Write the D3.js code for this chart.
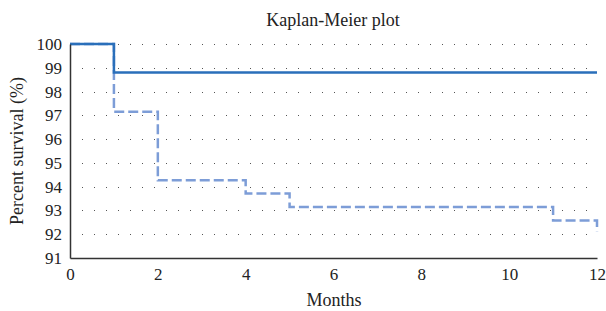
<!DOCTYPE html>
<html>
<head>
<meta charset="utf-8">
<script src="https://cdn.jsdelivr.net/npm/d3@7"></script>
<style>
  body { margin: 0; background: #fff; }
  text { font-family: "Liberation Serif", "DejaVu Serif", serif; fill: #222; }
</style>
</head>
<body>
<div id="chart"></div>
<script>
// Kaplan-Meier curves, values
const monthsA = [0, 1, 12];
const survivalA = [100, 98.8, 98.8];

const monthsB = [0, 1, 2, 4, 5, 11, 12];
const survivalB = [100, 97.15, 94.27, 93.71, 93.14, 92.58, 92.13];

const xTicks = [0, 2, 4, 6, 8, 10, 12];
const yTicks = [91, 92, 93, 94, 95, 96, 97, 98, 99, 100];

const width = 606, height = 311;
const margins = {top: 44, right: 9, bottom: 53, left: 70};
const chartWidth = width - margins.left - margins.right;
const chartHeight = height - margins.top - margins.bottom;

const svg = d3.select('#chart').append('svg')
  .attr('width', width)
  .attr('height', height);

const x = d3.scaleLinear().domain([0, 12]).range([0, chartWidth]);
const y = d3.scaleLinear().domain([91, 100]).range([chartHeight, 0]);

const chart = svg.append('g')
  .attr('transform', `translate(${margins.left}, ${margins.top})`);

/* dotted grid lines */
chart.append('g')
  .selectAll('line')
  .data(yTicks.filter(d => d > 91))
  .enter()
  .append('line')
  .attr('x1', 0)
  .attr('x2', chartWidth)
  .attr('y1', d => Math.round(y(d)) + 0.5)
  .attr('y2', d => Math.round(y(d)) + 0.5)
  .attr('stroke', '#555')
  .attr('stroke-width', 1)
  .attr('stroke-dasharray', '1,11');

const line = d3.line()
  .x(d => x(d[0]))
  .y(d => y(d[1]))
  .curve(d3.curveStepAfter);

chart.append('path')
  .datum(monthsB.map((m, i) => [m, survivalB[i]]))
  .attr('d', line)
  .attr('fill', 'none')
  .attr('stroke', '#7d9dd7')
  .attr('stroke-width', 2.5)
  .attr('stroke-dasharray', '10,4');

chart.append('path')
  .datum(monthsA.map((m, i) => [m, survivalA[i]]))
  .attr('d', line)
  .attr('fill', 'none')
  .attr('stroke', '#2a6fba')
  .attr('stroke-width', 2.5);

/* axes */
const xAxis = d3.axisBottom(x).tickValues(xTicks).tickSize(0).tickPadding(10);
const yAxis = d3.axisLeft(y).tickValues(yTicks).tickSize(0).tickPadding(8);

const gx = chart.append('g')
  .attr('transform', `translate(0, ${chartHeight})`)
  .call(xAxis);
const gy = chart.append('g').call(yAxis);

[gx, gy].forEach(g => {
  g.select('.domain').attr('stroke', '#333').attr('stroke-width', 1.5);
  g.selectAll('text')
    .attr('font-family', '"Liberation Serif", serif')
    .attr('font-size', 17)
    .attr('fill', '#222');
});

svg.append('text')
  .attr('x', 333)
  .attr('y', 26)
  .attr('text-anchor', 'middle')
  .attr('font-size', 18)
  .text('Kaplan-Meier plot');

svg.append('text')
  .attr('x', 334)
  .attr('y', 306)
  .attr('text-anchor', 'middle')
  .attr('font-size', 18)
  .text('Months');

svg.append('text')
  .attr('transform', 'translate(23, 151) rotate(-90)')
  .attr('text-anchor', 'middle')
  .attr('font-size', 18)
  .text('Percent survival (%)');
</script>
</body>
</html>
